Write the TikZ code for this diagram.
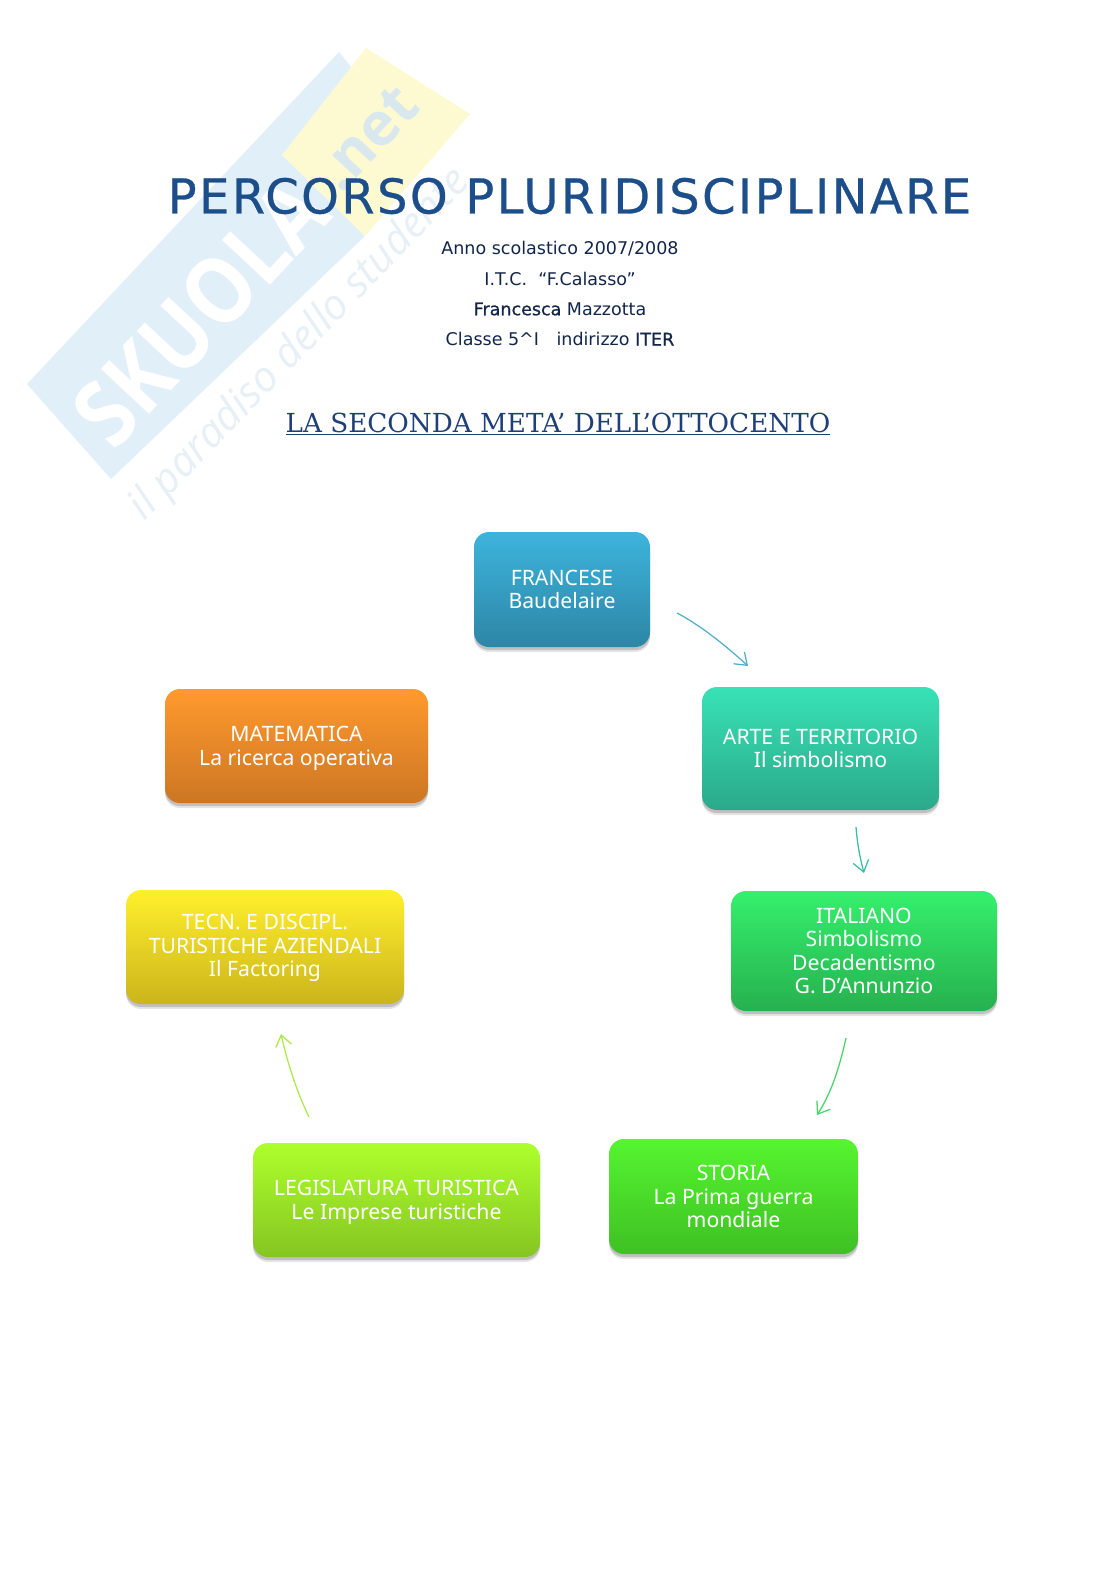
\documentclass[tikz,border=0pt]{standalone}
\usepackage{fontspec}
\setmainfont{Noto Sans}
\newfontfamily\serifhead{DejaVu Serif}
\newfontfamily\markfont{Open Sans}
\newfontfamily\headfont{DejaVu Sans}
\newfontfamily\titlefont[LetterSpace=5,FakeBold=0.6]{DejaVu Sans}
\newfontfamily\semifont[FakeBold=0.8]{DejaVu Sans}
\usetikzlibrary{shadows,arrows.meta,calc}
\definecolor{wblue}{HTML}{E1EFF8}
\definecolor{wyellow}{HTML}{FDFAD2}
\definecolor{wtext}{HTML}{E6F0F6}
\definecolor{wnet}{HTML}{D9E8EE}
\definecolor{navy}{HTML}{1B4E8A}
\definecolor{deep}{HTML}{12264A}
\definecolor{headblue}{HTML}{1F3F78}
\definecolor{frT}{HTML}{3DB4DC}\definecolor{frB}{HTML}{2D86A6}
\definecolor{arT}{HTML}{38E2B6}\definecolor{arB}{HTML}{2BA98A}
\definecolor{itT}{HTML}{35F06C}\definecolor{itB}{HTML}{27B04F}
\definecolor{stT}{HTML}{55F530}\definecolor{stB}{HTML}{3FC024}
\definecolor{leT}{HTML}{AEFF2C}\definecolor{leB}{HTML}{85C522}
\definecolor{teT}{HTML}{FFF02C}\definecolor{teB}{HTML}{CCB41C}
\definecolor{maT}{HTML}{FF9A2E}\definecolor{maB}{HTML}{CC7624}
\definecolor{arrA}{HTML}{4FAFC8}
\definecolor{arrB}{HTML}{38BFA0}
\definecolor{arrC}{HTML}{46D56A}
\definecolor{arrD}{HTML}{AEE84B}
\tikzset{
  card/.style={rounded corners=15pt,inner sep=0pt,align=center,text=white,
    font=\fontsize{21.2}{23.6}\selectfont,
    drop shadow={shadow xshift=0pt,shadow yshift=-5pt,opacity=.10,fill=black},
    drop shadow={shadow xshift=0pt,shadow yshift=-3pt,opacity=.16,fill=black}},
  flow/.style={-{Straight Barb[length=11pt,width=16pt]},line width=1.25pt},
  subline/.style={text=deep,font=\headfont\fontsize{17.5}{20}\selectfont},
}
\begin{document}
\begin{tikzpicture}[x=1pt,y=-1pt]
\useasboundingbox (0,0) rectangle (1116,1579);
\fill[white] (0,0) rectangle (1116,1579);
% watermark
\fill[wblue] (27,384) -- (339,52) -- (352,68) -- (282,155) -- (365,236) -- (111,479) -- cycle;
\fill[wyellow] (366,48) -- (470,114) -- (365,236) -- (282,155) -- cycle;
\node[rotate=47,yscale=1.15,text=white,font=\markfont\bfseries\fontsize{80}{80}\selectfont] (mk1) at (200,312) {SKUOLA};
\node[rotate=47,text=wnet,font=\markfont\bfseries\fontsize{60}{60}\selectfont] (mk2) at (368,138) {.net};
\node[rotate=46,text=wtext,font=\markfont\itshape\fontsize{42}{42}\selectfont] (mk3) at (300,345) {il paradiso dello studente};
% headings
\node[text=navy,font=\titlefont\fontsize{48}{50}\selectfont] (title) at (569.5,196) {PERCORSO PLURIDISCIPLINARE};
\node[subline] (sa) at (560,249) {Anno scolastico 2007/2008};
\node[subline] (sb) at (560,279) {I.T.C.~ “F.Calasso”};
\node[subline] (sc) at (560,309) {{\semifont Francesca} Mazzotta};
\node[subline] (sd) at (560,339) {Classe 5\textasciicircum I\quad indirizzo {\semifont ITER}};
\node[text=headblue,font=\serifhead\fontsize{26.2}{28}\selectfont] (sub) at (558,424) {\underline{LA SECONDA META’ DELL’OTTOCENTO}};
% boxes
\node[card,minimum width=176pt,minimum height=115pt,top color=frT,bottom color=frB] (fr) at (562,589.5) {FRANCESE\\Baudelaire};
\node[card,minimum width=237pt,minimum height=123pt,top color=arT,bottom color=arB] (ar) at (820.5,748.5) {ARTE E TERRITORIO\\Il simbolismo};
\node[card,minimum width=266pt,minimum height=120pt,top color=itT,bottom color=itB] (it) at (864,951) {ITALIANO\\Simbolismo\\Decadentismo\\G. D'Annunzio};
\node[card,minimum width=249pt,minimum height=115pt,top color=stT,bottom color=stB] (st) at (733.5,1196.5) {STORIA\\La Prima guerra\\mondiale};
\node[card,minimum width=287pt,minimum height=114pt,top color=leT,bottom color=leB] (le) at (396.5,1200) {\rule{0pt}{19.5pt}LEGISLATURA TURISTICA\\Le Imprese turistiche};
\node[card,minimum width=278pt,minimum height=114pt,top color=teT,bottom color=teB] (te) at (265,947) {\rule{0pt}{17.5pt}TECN. E DISCIPL.\\TURISTICHE AZIENDALI\\Il Factoring};
\node[card,minimum width=263pt,minimum height=114pt,top color=maT,bottom color=maB] (ma) at (296.5,746) {\rule{0pt}{19.5pt}MATEMATICA\\La ricerca operativa};
% connectors
\coordinate (a1) at (677,613); \coordinate (a2) at (748,666);
\coordinate (b1) at (856,827); \coordinate (b2) at (864,873);
\coordinate (c1) at (846,1038); \coordinate (c2) at (817,1115);
\coordinate (d1) at (309,1117); \coordinate (d2) at (281,1034);
\draw[flow,color=arrA] (a1) .. controls (700,625) and (725,645) .. (a2);
\draw[flow,color=arrB] (b1) .. controls (857,842) and (860,858) .. (b2);
\draw[flow,color=arrC] (c1) .. controls (840,1065) and (832,1092) .. (c2);
\draw[flow,color=arrD] (d1) .. controls (297,1092) and (288,1065) .. (d2);
\end{tikzpicture}
\end{document}
